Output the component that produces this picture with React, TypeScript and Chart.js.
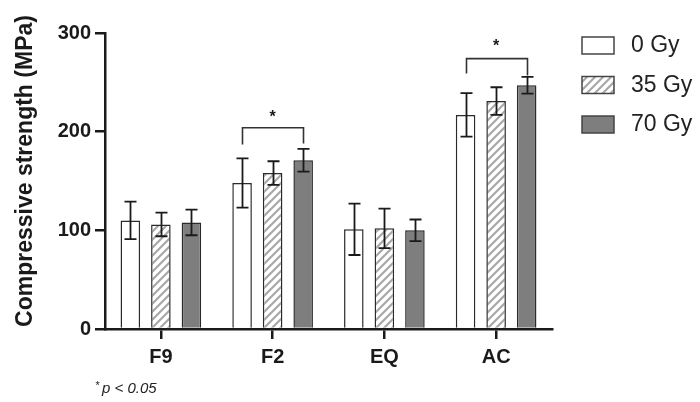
import React, { useEffect, useRef } from "react";
import { Chart, registerables } from "chart.js";

Chart.register(...registerables);

const categories = ["F9", "F2", "EQ", "AC"];
const seriesNames = ["0 Gy", "35 Gy", "70 Gy"];
const values0 = [110, 148, 101, 217];
const values35 = [106, 158, 102, 231];
const values70 = [108, 171, 100, 247];
const errors0 = [19, 25, 26, 22];
const errors35 = [12, 12, 20, 14];
const errors70 = [13, 11.5, 11, 8.5];
const yTicks = [0, 100, 200, 300];
// significance brackets: category index, bracket top value, left leg end, right leg end, star value
const sigCategory = [1, 3];
const sigTop = [204, 274];
const sigLeftEnd = [187, 259];
const sigRightEnd = [188, 257];
const sigStar = [217, 289];
const footnote = "p < 0.05";
const yTitle = "Compressive strength (MPa)";

const FONT = "'Liberation Sans', Arial, Helvetica, sans-serif";
const INK = "#1a1a1a";

function makeHatch(): CanvasPattern | string {
  const tile = document.createElement("canvas");
  tile.width = 8;
  tile.height = 8;
  const c = tile.getContext("2d");
  if (!c) return "#ccc";
  c.fillStyle = "#ffffff";
  c.fillRect(0, 0, 8, 8);
  c.strokeStyle = "#a8a8a8";
  c.lineWidth = 2.2;
  c.beginPath();
  c.moveTo(-1, 9);
  c.lineTo(9, -1);
  c.moveTo(-5, 5);
  c.lineTo(5, -5);
  c.moveTo(3, 13);
  c.lineTo(13, 3);
  c.stroke();
  const p = c.createPattern(tile, "repeat");
  return p || "#ccc";
}

export default function App() {
  const ref = useRef<HTMLCanvasElement>(null);

  useEffect(() => {
    const canvas = ref.current;
    if (!canvas) return;
    const hatch = makeHatch();
    const fills: any[] = ["#ffffff", hatch, "#7e7e7e"];
    const vals = [values0, values35, values70];
    const errs = [errors0, errors35, errors70];

    const overlay = {
      id: "overlay",
      afterDatasetsDraw(chart: any) {
        const ctx = chart.ctx;
        const ys = chart.scales.y;
        ctx.save();
        // error bars
        ctx.strokeStyle = INK;
        ctx.lineWidth = 1.8;
        for (let d = 0; d < vals.length; d++) {
          const meta = chart.getDatasetMeta(d);
          meta.data.forEach((bar: any, i: number) => {
            const v = vals[d][i];
            const e = errs[d][i];
            const x = Math.round(bar.x) + 0.5;
            const yt = ys.getPixelForValue(v + e);
            const yb = ys.getPixelForValue(v - e);
            ctx.beginPath();
            ctx.moveTo(x, yt);
            ctx.lineTo(x, yb);
            ctx.moveTo(x - 6, yt);
            ctx.lineTo(x + 6, yt);
            ctx.moveTo(x - 6, yb);
            ctx.lineTo(x + 6, yb);
            ctx.stroke();
          });
        }
        // significance brackets
        ctx.strokeStyle = "#333";
        ctx.lineWidth = 1.6;
        for (let s = 0; s < sigCategory.length; s++) {
          const ci = sigCategory[s];
          const b0 = chart.getDatasetMeta(0).data[ci];
          const b2 = chart.getDatasetMeta(2).data[ci];
          const x0 = Math.round(b0.x) + 0.5;
          const x2 = Math.round(b2.x) + 0.5;
          const yt = ys.getPixelForValue(sigTop[s]);
          ctx.beginPath();
          ctx.moveTo(x0, ys.getPixelForValue(sigLeftEnd[s]));
          ctx.lineTo(x0, yt);
          ctx.lineTo(x2, yt);
          ctx.lineTo(x2, ys.getPixelForValue(sigRightEnd[s]));
          ctx.stroke();
          ctx.fillStyle = INK;
          ctx.font = `bold 16px ${FONT}`;
          ctx.textAlign = "center";
          ctx.textBaseline = "middle";
          const xc = chart.scales.x.getPixelForValue(ci);
          ctx.fillText("*", xc, ys.getPixelForValue(sigStar[s]) + 3);
        }
        ctx.restore();
      },
      afterDraw(chart: any) {
        const ctx = chart.ctx;
        ctx.save();
        // y title
        ctx.translate(32, 171);
        ctx.rotate(-Math.PI / 2);
        ctx.fillStyle = INK;
        ctx.font = `bold 23px ${FONT}`;
        ctx.textAlign = "center";
        ctx.textBaseline = "alphabetic";
        ctx.fillText(yTitle, 0, 0);
        ctx.restore();

        // legend
        ctx.save();
        for (let i = 0; i < seriesNames.length; i++) {
          const bx = 582;
          const by = 37 + i * 39.5;
          ctx.fillStyle = fills[i];
          ctx.fillRect(bx, by, 32, 17);
          ctx.strokeStyle = "#444";
          ctx.lineWidth = 1.5;
          ctx.strokeRect(bx, by, 32, 17);
          ctx.fillStyle = "#222";
          ctx.font = `23px ${FONT}`;
          ctx.textAlign = "left";
          ctx.textBaseline = "middle";
          ctx.fillText(seriesNames[i], 631, by + 9);
        }
        // footnote
        ctx.fillStyle = "#222";
        ctx.font = `italic 11px ${FONT}`;
        ctx.textAlign = "left";
        ctx.textBaseline = "alphabetic";
        ctx.fillText("*", 95, 389);
        ctx.font = `italic 15px ${FONT}`;
        ctx.fillText(footnote, 102, 393);
        ctx.restore();
      },
    };

    const tickFont = { family: FONT, size: 20, weight: "bold" as const };

    const chart = new Chart(canvas, {
      type: "bar",
      data: {
        labels: categories,
        datasets: seriesNames.map((name, i) => ({
          label: name,
          data: vals[i],
          backgroundColor: fills[i],
          borderColor: "#2a2a2a",
          borderWidth: 1.5,
          barPercentage: 0.64,
          categoryPercentage: 0.82,
        })),
      },
      options: {
        responsive: false,
        animation: false,
        devicePixelRatio: 1,
        layout: { padding: { top: 33, left: 0, right: 148, bottom: 0 } },
        plugins: { legend: { display: false }, tooltip: { enabled: false } },
        scales: {
          x: {
            grid: {
              display: true,
              drawOnChartArea: false,
              offset: false,
              tickLength: 10,
              color: INK,
              lineWidth: 2.5,
            },
            border: { display: true, color: INK, width: 2.5 },
            ticks: { color: INK, font: tickFont, padding: 6 },
            afterFit: (s: any) => {
              s.height = 73;
            },
          },
          y: {
            min: yTicks[0],
            max: yTicks[yTicks.length - 1],
            afterBuildTicks: (s: any) => {
              s.ticks = yTicks.map((v) => ({ value: v }));
            },
            grid: {
              display: true,
              drawOnChartArea: false,
              tickLength: 10,
              color: INK,
              lineWidth: 2.5,
            },
            border: { display: true, color: INK, width: 2.5 },
            ticks: { color: INK, font: tickFont, padding: 4 },
            afterFit: (s: any) => {
              s.width = 105;
            },
          },
        },
      },
      plugins: [overlay],
    });

    return () => chart.destroy();
  }, []);

  return (
    <canvas
      ref={ref}
      width={700}
      height={402}
      style={{ position: "absolute", left: 0, top: 0, width: 700, height: 402, background: "#fff" }}
    />
  );
}
